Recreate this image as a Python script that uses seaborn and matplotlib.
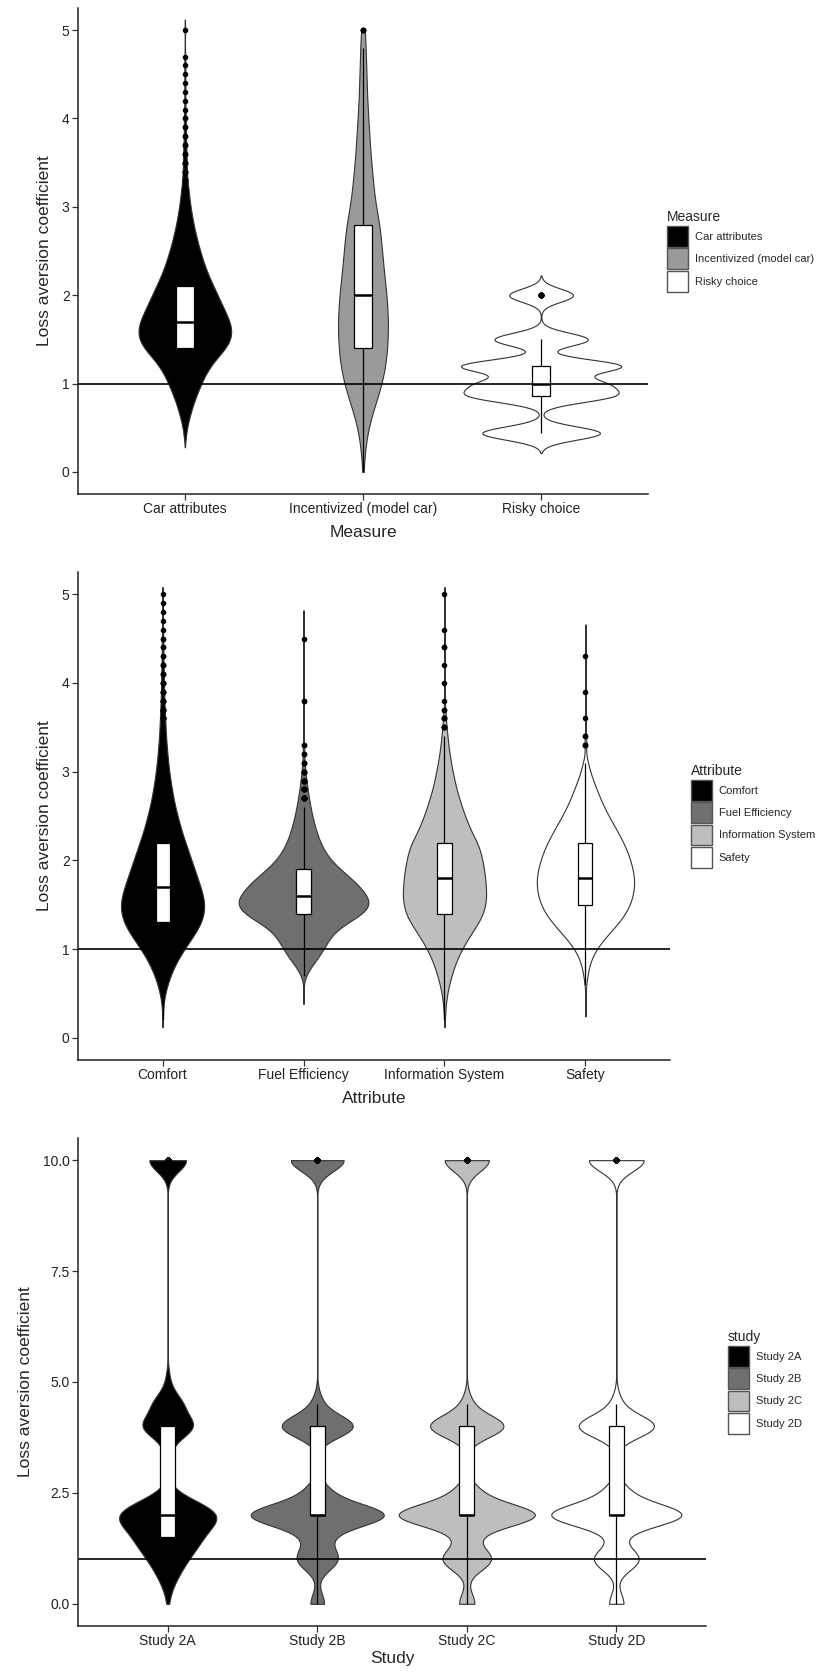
import numpy as np
import pandas as pd
import seaborn as sns
import matplotlib.pyplot as plt
from matplotlib.patches import Patch

####Panel 1 - Measure
measure_names = ["Car attributes", "Incentivized (model car)", "Risky choice"]
measure_fill = ["#000000", "#9a9a9a", "#ffffff"]

car_vals = [0.4, 0.5, 0.6, 0.7, 0.8, 0.9, 1.0, 1.1, 1.2, 1.3, 1.4, 1.5, 1.6, 1.7, 1.8, 1.9,
            2.0, 2.1, 2.2, 2.3, 2.4, 2.5, 2.6, 2.7, 2.8, 2.9, 3.0, 3.1, 3.2, 3.3, 3.4, 3.5,
            3.6, 3.7, 3.8, 3.9, 4.0, 4.1, 4.2, 4.3, 4.4, 4.5, 4.6, 4.7, 5.0]
car_counts = [2, 4, 8, 13, 18, 25, 32, 40, 50, 64, 80, 90, 92, 88, 80, 72,
              64, 56, 48, 41, 35, 30, 25, 21, 17, 14, 11, 9, 7, 5, 4, 4,
              3, 3, 2, 2, 2, 1, 1, 1, 1, 1, 1, 1, 1]

inc_vals = [0.0, 0.2, 0.4, 0.6, 0.8, 1.0, 1.2, 1.4, 1.6, 1.8, 2.0, 2.2, 2.4, 2.6, 2.8,
            3.0, 3.2, 3.4, 3.6, 3.8, 4.0, 4.2, 4.4, 4.6, 4.8, 5.0]
inc_counts = [1, 3, 7, 14, 25, 35, 42, 45, 47, 46, 44, 40, 37, 34, 31,
              24, 20, 17, 14, 12, 10, 8, 7, 6, 5, 4]

risky_vals = [0.44, 0.86, 1.0, 1.2, 1.5, 2.0]
risky_counts = [24, 26, 22, 32, 19, 13]

####Panel 2 - Attribute
attr_names = ["Comfort", "Fuel Efficiency", "Information System", "Safety"]
attr_fill = ["#000000", "#6f6f6f", "#bebebe", "#ffffff"]

comfort_vals = [0.2, 0.3, 0.4, 0.5, 0.6, 0.7, 0.8, 0.9, 1.0, 1.1, 1.2, 1.3, 1.4, 1.5, 1.6, 1.7,
                1.8, 1.9, 2.0, 2.1, 2.2, 2.3, 2.4, 2.5, 2.6, 2.7, 2.8, 2.9, 3.0, 3.1, 3.2, 3.3,
                3.4, 3.5, 3.6, 3.7, 3.8, 3.9, 4.0, 4.1, 4.2, 4.3, 4.4, 4.5, 4.6, 4.7, 4.8, 4.9, 5.0]
comfort_counts = [1, 1, 3, 7, 13, 21, 31, 43, 58, 74, 90, 103, 110, 112, 108, 101,
                  93, 85, 77, 69, 61, 53, 46, 40, 34, 29, 25, 21, 18, 15, 13, 11,
                  9, 8, 7, 6, 5, 4, 4, 3, 3, 2, 2, 2, 1, 1, 1, 1, 1]

fuel_vals = [0.7, 0.8, 0.9, 1.0, 1.1, 1.2, 1.3, 1.4, 1.5, 1.6, 1.7, 1.8, 1.9, 2.0, 2.1,
             2.2, 2.3, 2.4, 2.5, 2.6, 2.7, 2.8, 2.9, 3.0, 3.1, 3.2, 3.3, 3.8, 4.5]
fuel_counts = [5, 20, 40, 55, 68, 85, 120, 165, 185, 175, 155, 130, 100, 75, 58,
               46, 37, 30, 24, 19, 15, 11, 8, 5, 3, 2, 2, 2, 1]

info_vals = [0.2, 0.3, 0.4, 0.5, 0.6, 0.7, 0.8, 0.9, 1.0, 1.1, 1.2, 1.3, 1.4, 1.5, 1.6, 1.7,
             1.8, 1.9, 2.0, 2.1, 2.2, 2.3, 2.4, 2.5, 2.6, 2.7, 2.8, 2.9, 3.0, 3.1, 3.2, 3.3,
             3.4, 3.5, 3.6, 3.7, 3.8, 4.0, 4.2, 4.4, 4.6, 5.0]
info_counts = [1, 2, 4, 7, 12, 18, 25, 34, 45, 58, 73, 88, 100, 106, 108, 107,
               105, 102, 98, 93, 85, 72, 62, 53, 45, 38, 31, 26, 21, 17, 13, 10,
               8, 5, 4, 2, 1, 1, 1, 2, 1, 1]

safety_vals = [0.6, 0.7, 0.8, 0.9, 1.0, 1.1, 1.2, 1.3, 1.4, 1.5, 1.6, 1.7, 1.8, 1.9, 2.0,
               2.1, 2.2, 2.3, 2.4, 2.5, 2.6, 2.7, 2.8, 2.9, 3.0, 3.1, 3.3, 3.4, 3.6, 3.9, 4.3]
safety_counts = [2, 5, 9, 16, 28, 45, 66, 86, 103, 115, 122, 126, 126, 122, 116,
                 108, 98, 86, 73, 60, 48, 38, 29, 20, 12, 7, 3, 2, 1, 1, 1]

####Panel 3 - study
study_names = ["Study 2A", "Study 2B", "Study 2C", "Study 2D"]
study_fill = ["#000000", "#6f6f6f", "#bebebe", "#ffffff"]

s2a_vals = [0.0, 0.25, 0.5, 0.75, 1.0, 1.25, 1.5, 1.75, 2.0, 2.25, 2.5, 3.5, 4.0, 4.5, 5.0, 10.0]
s2a_counts = [1, 2, 7, 12, 18, 26, 32, 36, 58, 32, 4, 6, 50, 28, 4, 40]
s2bcd_vals = [0.0, 1.0, 1.5, 2.0, 2.5, 4.0, 4.5, 10.0]
s2b_counts = [16, 45, 22, 150, 25, 82, 10, 62]
s2c_counts = [18, 55, 15, 155, 25, 85, 10, 52]
s2d_counts = [17, 52, 8, 150, 25, 88, 10, 65]

study_ticks = [0, 2.5, 5, 7.5, 10]
study_ticklabels = ["0.0", "2.5", "5.0", "7.5", "10.0"]


def long_table(names, vals_list, counts_list):
    rows = []
    for name, vals, counts in zip(names, vals_list, counts_list):
        for v, c in zip(vals, counts):
            rows += [(name, v)] * c
    return pd.DataFrame(rows, columns=["group", "coef"])


def draw_panel(ax, df, names, fills, widths, cuts, bws, title, gap):
    for i, name in enumerate(names):
        sub = df[df["group"] == name]
        sd = sub["coef"].std()
        sns.violinplot(data=sub, x="group", y="coef", order=names, color=fills[i],
                       saturation=1, density_norm="width", width=widths[i], cut=cuts[i],
                       bw_method=bws[i] / sd, gridsize=500, inner=None,
                       linecolor="#333333", linewidth=0.8, ax=ax)
    ax.axhline(1, color="black", lw=1.2, zorder=1.5)
    sns.boxplot(data=df, x="group", y="coef", order=names, width=0.1, color="white",
                saturation=1, linecolor="black", linewidth=0.9, showcaps=False,
                fliersize=3,
                flierprops=dict(marker="o", markerfacecolor="black", markeredgecolor="black"),
                medianprops=dict(linewidth=1.8), ax=ax)
    ax.set_xlim(-0.6, len(names) - 0.4)
    sns.despine(ax=ax)
    for s in ["left", "bottom"]:
        ax.spines[s].set_linewidth(1.1)
        ax.spines[s].set_color("#222222")
    ax.tick_params(axis="both", length=4, width=0.9, color="#333333",
                   labelsize=10, labelcolor="#222222", pad=2)
    ax.set_ylabel("Loss aversion coefficient", fontsize=12.5, labelpad=7)
    handles = [Patch(facecolor=f, edgecolor="#555555", linewidth=1.0, label=n)
               for n, f in zip(names, fills)]
    ax.legend(handles=handles, title=title, loc="center left",
              bbox_to_anchor=(1 + gap, 0.5), frameon=False, fontsize=8,
              title_fontsize=10, handlelength=1.9, handleheight=2.5,
              labelspacing=0.15, handletextpad=0.6, borderpad=0, borderaxespad=0,
              alignment="left")


sns.set_style("ticks")
plt.rcParams["font.family"] = ["Liberation Sans", "DejaVu Sans"]

fig = plt.figure(figsize=(8.2, 16.73), dpi=100)
ax1 = fig.add_axes([0.0951, 0.7047, 0.6951, 0.2905])
ax2 = fig.add_axes([0.0951, 0.3664, 0.7220, 0.2917])
ax3 = fig.add_axes([0.0951, 0.0281, 0.7659, 0.2917])

df1 = long_table(measure_names, [car_vals, inc_vals, risky_vals],
                 [car_counts, inc_counts, risky_counts])
draw_panel(ax1, df1, measure_names, measure_fill, widths=[0.52, 0.28, 0.90],
           cuts=[1.5, 0, 3], bws=[0.08, 0.15, 0.075], title="Measure", gap=0.033)
ax1.set_ylim(-0.25, 5.25)
ax1.set_yticks([0, 1, 2, 3, 4, 5])
ax1.set_xlabel("Measure", fontsize=12.5, labelpad=6)

df2 = long_table(attr_names, [comfort_vals, fuel_vals, info_vals, safety_vals],
                 [comfort_counts, fuel_counts, info_counts, safety_counts])
draw_panel(ax2, df2, attr_names, attr_fill, widths=[0.59, 0.92, 0.59, 0.69],
           cuts=[1, 4, 1, 4.5], bws=[0.08, 0.08, 0.08, 0.08], title="Attribute", gap=0.035)
ax2.set_ylim(-0.25, 5.25)
ax2.set_yticks([0, 1, 2, 3, 4, 5])
ax2.set_xlabel("Attribute", fontsize=12.5, labelpad=6)

df3 = long_table(study_names, [s2a_vals, s2bcd_vals, s2bcd_vals, s2bcd_vals],
                 [s2a_counts, s2b_counts, s2c_counts, s2d_counts])
draw_panel(ax3, df3, study_names, study_fill, widths=[0.65, 0.89, 0.91, 0.87],
           cuts=[0, 0, 0, 0], bws=[0.25, 0.25, 0.25, 0.25], title="study", gap=0.035)
ax3.set_ylim(-0.5, 10.5)
ax3.set_yticks(study_ticks)
ax3.set_yticklabels(study_ticklabels)
ax3.set_xlabel("Study", fontsize=12.5, labelpad=2)

fig.savefig("out.png", dpi=100)
